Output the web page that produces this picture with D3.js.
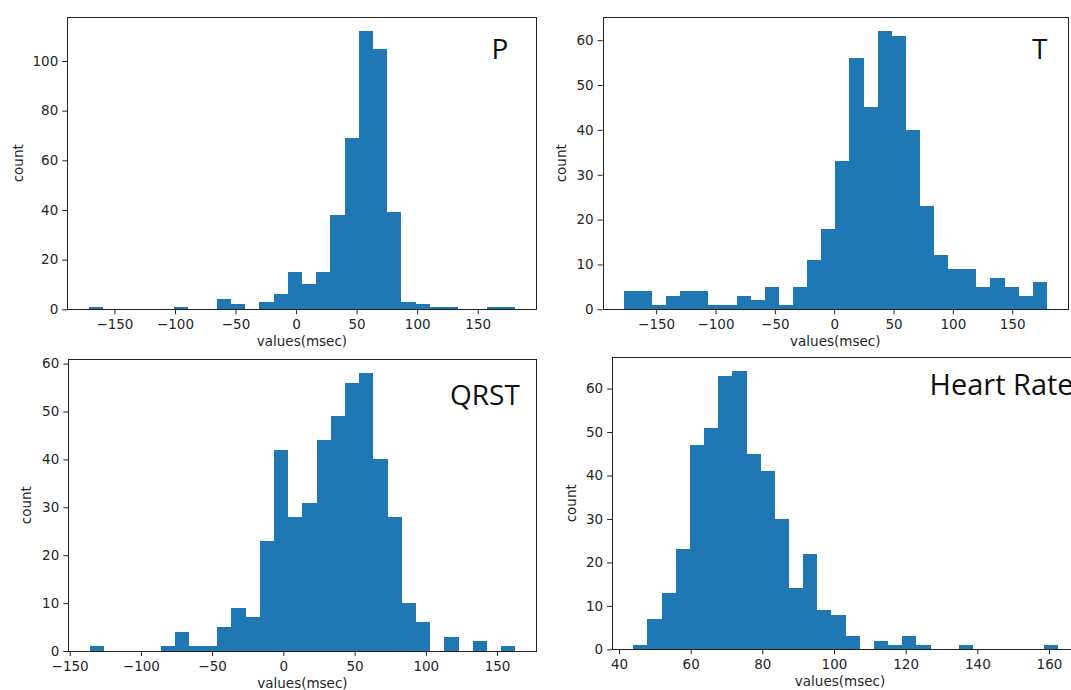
<!DOCTYPE html>
<html>
<head>
<meta charset="utf-8">
<script src="https://cdn.jsdelivr.net/npm/d3@7"></script>
<style>
  body { margin: 0; background: #fff; }
  svg { display: block; }
</style>
</head>
<body>
<div id="chart"></div>
<script>
// histogram counts (30 bins each) and the data range the bins cover
var pCounts = [1,0,0,0,0,0,1,0,0,4,2,0,3,6,15,10,15,38,69,112,105,39,3,2,1,1,0,0,1,1];
var pRange = [-171.3, 181];

var tCounts = [4,4,1,3,4,4,1,1,3,2,5,1,5,11,18,33,56,45,62,61,40,23,12,9,9,5,7,5,3,6];
var tRange = [-177.3, 179.2];

var qrstCounts = [1,0,0,0,0,1,4,1,1,5,9,7,23,42,28,31,44,49,56,58,40,28,10,6,0,3,0,2,0,1];
var qrstRange = [-136, 162.8];

var hrCounts = [1,7,13,23,47,51,63,64,45,41,30,14,22,9,8,3,0,2,1,3,1,0,0,1,0,0,0,0,0,1];
var hrRange = [44, 162.5];

var angleTicks = [-150, -100, -50, 0, 50, 100, 150];
var hrTicks = [40, 60, 80, 100, 120, 140, 160];
var pYTicks = [0, 20, 40, 60, 80, 100];
var countTicks = [0, 10, 20, 30, 40, 50, 60];

var width = 1071,
    height = 690;

var svg = d3.select("#chart")
  .append("svg")
  .attr("width", width)
  .attr("height", height);

svg.append("rect")
  .attr("width", width)
  .attr("height", height)
  .attr("fill", "#fff");

var panels = [
  {name: "P", counts: pCounts, range: pRange, xt: angleTicks, yt: pYTicks,
   box: [67.3, 17.3, 536.6, 309.3], ylab: 44, label: [491.5, 59], fs: 28},
  {name: "T", counts: tCounts, range: tRange, xt: angleTicks, yt: countTicks,
   box: [602.6, 17.3, 1068, 309.3], ylab: 36.5, label: [1032, 59], fs: 28},
  {name: "QRST", counts: qrstCounts, range: qrstRange, xt: angleTicks, yt: countTicks,
   box: [68.3, 359.3, 536.6, 651], ylab: 37, label: [450, 405], fs: 28},
  {name: "Heart Rate", counts: hrCounts, range: hrRange, xt: hrTicks, yt: countTicks,
   box: [612.1, 357.3, 1079.2, 649.3], ylab: 36, label: [929.5, 395], fs: 29}
];

panels.forEach(drawPanel);

function drawPanel(p) {
  var n = p.counts.length,
      lo = p.range[0],
      hi = p.range[1],
      span = hi - lo,
      step = span / n;

  var bins = p.counts.map(function(c, i) {
    return {x0: lo + i * step, x1: lo + (i + 1) * step, count: c};
  });

  var x = d3.scaleLinear()
    .domain([lo - 0.05 * span, hi + 0.05 * span])
    .range([p.box[0], p.box[2]]);

  var y = d3.scaleLinear()
    .domain([0, d3.max(p.counts) * 1.05])
    .range([p.box[3], p.box[1]]);

  var g = svg.append("g");

  g.selectAll(".bar")
    .data(bins.filter(function(d) { return d.count > 0; }))
    .enter().append("rect")
    .attr("class", "bar")
    .attr("x", function(d) { return x(d.x0); })
    .attr("width", function(d) { return x(d.x1) - x(d.x0); })
    .attr("y", function(d) { return y(d.count); })
    .attr("height", function(d) { return y(0) - y(d.count); })
    .attr("fill", "#1f77b4")
    .attr("shape-rendering", "crispEdges");

  // frame
  g.append("rect")
    .attr("x", Math.round(p.box[0]) + 0.5)
    .attr("y", Math.round(p.box[1]) + 0.5)
    .attr("width", Math.round(p.box[2] - p.box[0]))
    .attr("height", Math.round(p.box[3] - p.box[1]))
    .attr("fill", "none")
    .attr("stroke", "#222")
    .attr("stroke-width", 1);

  var xAxis = g.append("g")
    .attr("transform", "translate(0," + p.box[3] + ")")
    .call(d3.axisBottom(x).tickValues(p.xt).tickSize(5).tickSizeOuter(0).tickPadding(5));

  var yAxis = g.append("g")
    .attr("transform", "translate(" + p.box[0] + ",0)")
    .call(d3.axisLeft(y).tickValues(p.yt).tickSize(5).tickSizeOuter(0).tickPadding(4));

  [xAxis, yAxis].forEach(function(a) {
    a.select(".domain").remove();
    a.selectAll("line").attr("stroke", "#222");
    a.selectAll("text")
      .attr("fill", "#262626")
      .style("font-family", "DejaVu Sans")
      .style("font-size", "13.5px");
  });

  g.append("text")
    .attr("x", (p.box[0] + Math.min(p.box[2], 1068)) / 2)
    .attr("y", p.box[3] + 37)
    .attr("text-anchor", "middle")
    .attr("fill", "#262626")
    .style("font-family", "DejaVu Sans")
    .style("font-size", "13.5px")
    .text("values(msec)");

  g.append("text")
    .attr("transform", "translate(" + (p.box[0] - p.ylab) + "," + ((p.box[1] + p.box[3]) / 2) + ") rotate(-90)")
    .attr("text-anchor", "middle")
    .attr("fill", "#262626")
    .style("font-family", "DejaVu Sans")
    .style("font-size", "13.5px")
    .text("count");

  g.append("text")
    .attr("x", p.label[0])
    .attr("y", p.label[1])
    .attr("fill", "#111")
    .style("font-family", "Open Sans")
    .style("font-size", p.fs + "px")
    .text(p.name);
}
</script>
</body>
</html>
